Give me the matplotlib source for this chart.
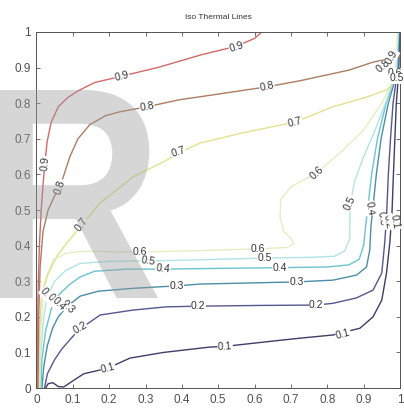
import numpy as np
import matplotlib
matplotlib.use("Agg")
import matplotlib.pyplot as plt
from matplotlib.textpath import TextPath
from matplotlib.patches import PathPatch
from matplotlib.font_manager import FontProperties
from matplotlib.transforms import Affine2D

plt.rcParams['font.family'] = ['Liberation Sans', 'DejaVu Sans']

# Iso-thermal levels and their traced contour paths (x, y in the unit cavity)
levels = [0.1, 0.2, 0.3, 0.4, 0.5, 0.6, 0.7, 0.8, 0.9]

x_01 = [0.025, 0.032, 0.045, 0.060, 0.075, 0.100, 0.130, 0.197, 0.257, 0.350, 0.477, 0.519, 0.634, 0.725,
        0.816, 0.890, 0.926, 0.950, 0.963, 0.972, 0.978, 0.982, 0.986, 0.990, 0.996, 0.999]
y_01 = [0.000, 0.012, 0.015, 0.004, 0.003, 0.020, 0.040, 0.056, 0.084, 0.100, 0.115, 0.117, 0.130, 0.140,
        0.149, 0.168, 0.200, 0.247, 0.323, 0.407, 0.490, 0.600, 0.700, 0.800, 0.880, 1.000]

x_02 = [0.022, 0.030, 0.050, 0.070, 0.100, 0.120, 0.175, 0.266, 0.358, 0.450, 0.620, 0.770, 0.816, 0.880,
        0.926, 0.950, 0.958, 0.963, 0.968, 0.974, 0.981, 0.989, 0.996, 0.998]
y_02 = [0.000, 0.040, 0.080, 0.110, 0.145, 0.166, 0.205, 0.219, 0.228, 0.230, 0.232, 0.233, 0.238, 0.253,
        0.275, 0.323, 0.407, 0.480, 0.600, 0.700, 0.800, 0.860, 0.900, 1.000]

x_03 = [0.015, 0.020, 0.030, 0.045, 0.060, 0.083, 0.120, 0.170, 0.266, 0.386, 0.450, 0.716, 0.816, 0.880,
        0.908, 0.917, 0.920, 0.926, 0.935, 0.948, 0.968, 0.985, 0.994, 0.997]
y_03 = [0.000, 0.060, 0.120, 0.170, 0.200, 0.228, 0.258, 0.272, 0.280, 0.287, 0.292, 0.298, 0.303, 0.317,
        0.340, 0.388, 0.452, 0.510, 0.600, 0.700, 0.800, 0.860, 0.900, 1.000]

x_04 = [0.012, 0.015, 0.025, 0.040, 0.060, 0.090, 0.120, 0.160, 0.250, 0.348, 0.500, 0.670, 0.800, 0.860,
        0.888, 0.900, 0.905, 0.912, 0.922, 0.938, 0.962, 0.982, 0.992, 0.996]
y_04 = [0.000, 0.080, 0.160, 0.220, 0.260, 0.290, 0.312, 0.328, 0.334, 0.334, 0.336, 0.338, 0.340, 0.346,
        0.362, 0.400, 0.450, 0.510, 0.600, 0.700, 0.800, 0.860, 0.900, 1.000]

x_05 = [0.010, 0.012, 0.020, 0.030, 0.050, 0.080, 0.120, 0.200, 0.307, 0.450, 0.628, 0.750, 0.820, 0.848,
        0.862, 0.862, 0.864, 0.875, 0.900, 0.930, 0.960, 0.980, 0.990, 0.995]
y_05 = [0.000, 0.100, 0.200, 0.260, 0.300, 0.330, 0.350, 0.356, 0.357, 0.360, 0.365, 0.367, 0.370, 0.385,
        0.420, 0.470, 0.520, 0.580, 0.650, 0.720, 0.800, 0.860, 0.900, 1.000]

x_06 = [0.008, 0.010, 0.014, 0.023, 0.046, 0.083, 0.130, 0.285, 0.450, 0.610, 0.690, 0.708, 0.700, 0.680,
        0.670, 0.672, 0.700, 0.772, 0.840, 0.900, 0.950, 0.975, 0.988, 0.993]
y_06 = [0.000, 0.100, 0.200, 0.300, 0.360, 0.379, 0.384, 0.382, 0.386, 0.391, 0.395, 0.405, 0.420, 0.440,
        0.480, 0.530, 0.565, 0.605, 0.665, 0.725, 0.800, 0.850, 0.890, 1.000]

x_07 = [0.006, 0.008, 0.012, 0.018, 0.032, 0.056, 0.083, 0.125, 0.175, 0.266, 0.358, 0.390, 0.450, 0.560,
        0.711, 0.816, 0.908, 0.963, 0.985, 1.000]
y_07 = [0.000, 0.150, 0.240, 0.275, 0.320, 0.370, 0.407, 0.458, 0.520, 0.593, 0.640, 0.660, 0.688, 0.715,
        0.747, 0.790, 0.817, 0.837, 0.860, 0.880]

x_08 = [0.004, 0.006, 0.010, 0.018, 0.032, 0.050, 0.065, 0.076, 0.092, 0.114, 0.147, 0.190, 0.230, 0.304,
        0.395, 0.450, 0.634, 0.725, 0.860, 0.925, 0.970, 1.000]
y_08 = [0.000, 0.200, 0.340, 0.440, 0.500, 0.540, 0.565, 0.600, 0.650, 0.700, 0.740, 0.765, 0.776, 0.790,
        0.810, 0.818, 0.846, 0.863, 0.893, 0.915, 0.925, 0.930]

x_09 = [0.002, 0.004, 0.008, 0.013, 0.018, 0.023, 0.029, 0.040, 0.060, 0.085, 0.115, 0.160, 0.235, 0.340,
        0.450, 0.550, 0.600, 0.620]
y_09 = [0.000, 0.250, 0.400, 0.500, 0.570, 0.630, 0.690, 0.745, 0.790, 0.815, 0.835, 0.858, 0.876, 0.902,
        0.935, 0.960, 0.982, 1.000]

# inline labels: level, position and text angle
label_lvl = [0.9, 0.9, 0.9, 0.8, 0.8, 0.8, 0.7, 0.7, 0.7, 0.6, 0.6, 0.6, 0.5, 0.5, 0.5,
             0.4, 0.4, 0.4, 0.3, 0.3, 0.3, 0.2, 0.2, 0.2, 0.1, 0.1, 0.1,
             0.6, 0.5, 0.4, 0.3, 0.2, 0.1, 0.8, 0.9, 0.6, 0.5]
label_x = [0.023, 0.235, 0.550, 0.065, 0.304, 0.634, 0.125, 0.390, 0.711, 0.285, 0.610, 0.772,
           0.307, 0.628, 0.862, 0.348, 0.670, 0.916, 0.386, 0.716, 0.085, 0.120, 0.445, 0.770,
           0.197, 0.519, 0.844, 0.028, 0.046, 0.062, 0.950, 0.968, 0.985, 0.955, 0.978, 0.986, 0.990]
label_y = [0.630, 0.876, 0.958, 0.565, 0.790, 0.846, 0.458, 0.662, 0.747, 0.382, 0.391, 0.605,
           0.357, 0.365, 0.520, 0.334, 0.338, 0.505, 0.287, 0.298, 0.228, 0.168, 0.230, 0.233,
           0.056, 0.117, 0.152, 0.262, 0.247, 0.236, 0.475, 0.468, 0.466, 0.905, 0.930, 0.885, 0.870]
label_rot = [85, 14, 17, 72, 10, 12, 52, 18, 14, 0, 0, 42, -8, 0, 65, -6, 0, -80, 0, 0, -45,
             30, 0, 0, 15, 3, 15, -50, -50, -45, -80, -80, -80, 40, 60, 0, 0]

line_colors = {0.1: '#3e3e66', 0.2: '#55578f', 0.3: '#4a8fa6', 0.4: '#6cc3cf', 0.5: '#b2e4e6',
               0.6: '#e4eec4', 0.7: '#e2e28e', 0.8: '#a97e62', 0.9: '#d06a6a'}

paths = [(x_01, y_01), (x_02, y_02), (x_03, y_03), (x_04, y_04), (x_05, y_05),
         (x_06, y_06), (x_07, y_07), (x_08, y_08), (x_09, y_09)]

fig = plt.figure(figsize=(4.04, 4.09), dpi=100)
fig.patch.set_facecolor('white')
ax = fig.add_axes([0.0903, 0.0513, 0.8997, 0.8705])

for lvl, (xs, ys) in zip(levels, paths):
    ax.plot(xs, ys, color=line_colors[lvl], lw=1.0, solid_joinstyle='round', zorder=2)

for lvl, lx, ly, rot in zip(label_lvl, label_x, label_y, label_rot):
    ax.text(lx, ly, f"{lvl:.1f}", fontsize=7.5, color='#333333', rotation=rot,
            rotation_mode='anchor', ha='center', va='center', zorder=3,
            bbox=dict(facecolor='white', edgecolor='none', pad=0.3))

ax.set_xlim(0, 1)
ax.set_ylim(0, 1)
ticks = np.round(np.arange(0, 1.01, 0.1), 1)
tick_labels = ['0' if t == 0 else ('1' if t == 1 else f"{t:.1f}") for t in ticks]
ax.set_xticks(ticks)
ax.set_xticklabels(tick_labels)
ax.set_yticks(ticks)
ax.set_yticklabels(tick_labels)
ax.tick_params(direction='in', top=True, right=True, length=3, width=0.6,
               labelsize=8.5, labelcolor='#505050', color='#555555', pad=4)
for sp in ax.spines.values():
    sp.set_linewidth(0.7)
    sp.set_color('#555555')

ax.set_title('Iso Thermal Lines', fontsize=6, color='#333333', pad=9)

# grey watermark letter across the left half, fitted into a pixel box
r_path = TextPath((0, 0), 'R', size=1, prop=FontProperties(family='Liberation Sans', weight='bold'))
ext = r_path.get_extents()
box_left, box_right, box_bottom, box_top = -4, 158, 409 - 298, 409 - 90
sx = (box_right - box_left) / ext.width
sy = (box_top - box_bottom) / ext.height
r_tf = Affine2D().translate(-ext.x0, -ext.y0).scale(sx, sy).translate(box_left, box_bottom)
fig.add_artist(PathPatch(r_path, transform=r_tf, facecolor='#9a9a9a', edgecolor='none',
                         alpha=0.4, zorder=10))

fig.savefig('out.png', dpi=100)
